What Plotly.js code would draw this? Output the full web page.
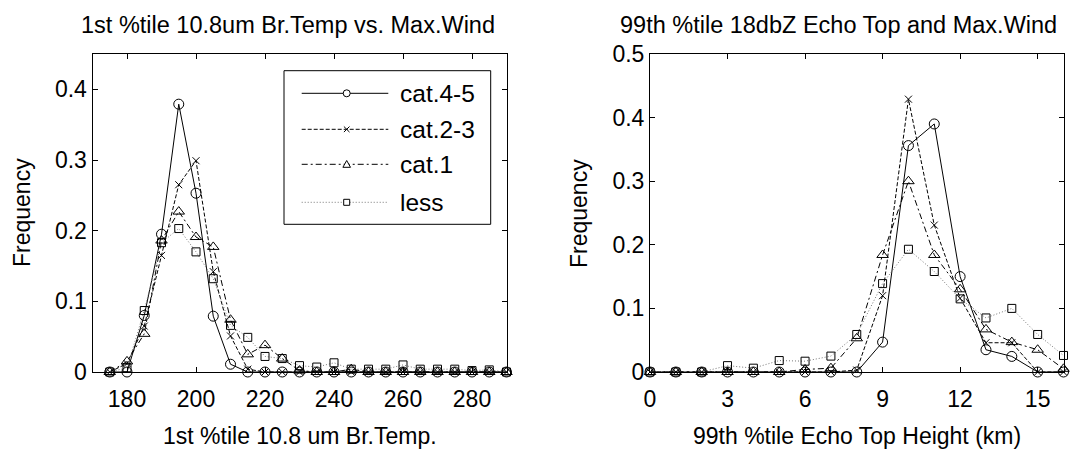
<!DOCTYPE html>
<html><head><meta charset="utf-8">
<script src="https://cdn.plot.ly/plotly-3.0.1.min.js"></script>
<style>html,body{margin:0;padding:0;background:#fff}#chart{width:1090px;height:450px}</style>
</head><body><div id="chart"></div>
<script>
// ---- data ----
const seriesNames = ['cat.4-5', 'cat.2-3', 'cat.1', 'less'];

const tempBins = [175,180,185,190,195,200,205,210,215,220,225,230,235,240,245,250,255,260,265,270,275,280,285,290];
const cat45Temp = [0,0,0.080,0.195,0.379,0.253,0.079,0.011,0,0,0,0,0,0,0,0,0,0,0,0,0,0,0,0];
const cat23Temp = [0,0.012,0.065,0.165,0.265,0.299,0.142,0.051,0.004,0,0,0,0,0,0,0,0,0,0,0,0,0,0,0];
const cat1Temp  = [0,0.015,0.054,0.186,0.227,0.191,0.177,0.074,0.025,0.038,0.019,0.002,0,0,0.004,0,0,0,0,0,0,0,0,0];
const lessTemp  = [0,0.006,0.087,0.183,0.203,0.170,0.132,0.066,0.049,0.022,0.019,0.009,0.007,0.013,0.004,0.004,0.004,0.010,0.004,0.004,0.004,0.002,0.003,0];

const heightBins = [0,1,2,3,4,5,6,7,8,9,10,11,12,13,14,15,16];
const cat45Height = [0,0,0,0,0,0,0,0,0,0.047,0.356,0.390,0.150,0.035,0.0245,0,0];
const cat23Height = [0,0,0,0,0,0,0,0,0.003,0.120,0.429,0.231,0.116,0.046,0.046,0,0];
const cat1Height  = [0,0,0,0,0,0,0.004,0.006,0.053,0.184,0.300,0.184,0.130,0.067,0.047,0.035,0.005];
const lessHeight  = [0,0,0,0.010,0.006,0.018,0.017,0.025,0.059,0.139,0.193,0.158,0.115,0.085,0.100,0.059,0.026];

const tempTicks = [180,200,220,240,260,280];
const heightTicks = [0,3,6,9,12,15];
const freqTicksLeft = [0,0.1,0.2,0.3,0.4];
const freqTicksRight = [0,0.1,0.2,0.3,0.4,0.5];

// ---- styles ----
const FONT = 'Liberation Sans, Arial, Helvetica, sans-serif';
const FS = 23;
const styles = [
  {dash:'solid', color:'#000', symbol:'circle-open', size:10},
  {dash:'4px,2px', color:'#000', symbol:'x-thin-open', size:7},
  {dash:'6px,3px,2px,3px', color:'#000', symbol:'triangle-up-open', size:10},
  {dash:'1px,2px', color:'#777', symbol:'square-open', size:8}
];

function mk(x, y, i, xa, ya) {
  const s = styles[i];
  return {
    x: x, y: y, xaxis: xa, yaxis: ya, type: 'scatter', mode: 'lines+markers',
    name: seriesNames[i], showlegend: false, cliponaxis: false,
    line: {color: s.color, width: 1, dash: s.dash},
    marker: {symbol: s.symbol, size: s.size, color: '#000', line: {color: '#000', width: 1}}
  };
}

const tempSeries = [cat45Temp, cat23Temp, cat1Temp, lessTemp];
const heightSeries = [cat45Height, cat23Height, cat1Height, lessHeight];
const traces = [];
tempSeries.forEach((v, i) => traces.push(mk(tempBins, v, i, 'x', 'y')));
heightSeries.forEach((v, i) => traces.push(mk(heightBins, v, i, 'x2', 'y2')));

const W = 1090, TOP = 54, BOT = 372, PH = BOT - TOP;
const px = v => v / W;
const py = v => (BOT - v) / PH;

function axisBase() {
  return {
    showgrid: false, zeroline: false, showline: true, linecolor: '#000', linewidth: 1,
    mirror: 'ticks', ticks: 'inside', ticklen: 5, tickwidth: 1, tickcolor: '#000',
    tickfont: {family: FONT, size: FS, color: '#000'}, fixedrange: true
  };
}

const layout = {
  width: 1090, height: 450,
  margin: {l: 0, r: 0, t: TOP, b: 450 - BOT, pad: 0},
  paper_bgcolor: '#fff', plot_bgcolor: '#fff',
  showlegend: false,
  xaxis: Object.assign(axisBase(), {domain: [px(92.5), px(506.5)], range: [170, 290], tickvals: tempTicks, ticklabelstandoff: 6, anchor: 'y'}),
  yaxis: Object.assign(axisBase(), {domain: [0, 1], range: [0, 0.45], tickvals: freqTicksLeft, ticklabelstandoff: 0, anchor: 'x'}),
  xaxis2: Object.assign(axisBase(), {domain: [px(650), px(1063.5)], range: [0, 16], tickvals: heightTicks, ticklabelstandoff: 6, anchor: 'y2'}),
  yaxis2: Object.assign(axisBase(), {domain: [0, 1], range: [0, 0.5], tickvals: freqTicksRight, ticklabelstandoff: 0, anchor: 'x2'}),
  annotations: [],
  shapes: []
};

function txt(text, x, y, opts) {
  layout.annotations.push(Object.assign({
    text: text, xref: 'paper', yref: 'paper', x: px(x), y: py(y),
    xanchor: 'center', yanchor: 'middle', showarrow: false,
    font: {family: FONT, size: FS, color: '#000'}
  }, opts || {}));
}
txt('1st %tile 10.8um Br.Temp vs. Max.Wind', 288, 25, {font: {family: FONT, size: 23.5, color: '#000'}});
txt('99th %tile 18dbZ Echo Top and Max.Wind', 838, 25, {font: {family: FONT, size: 23.5, color: '#000'}});
txt('1st %tile 10.8 um Br.Temp.', 300, 436);
txt('99th %tile Echo Top Height (km)', 857, 436);
txt('Frequency', 22, 213, {textangle: -90});
txt('Frequency', 579, 213, {textangle: -90});

// ---- legend (drawn as layout decoration) ----
const legBox = {x0: 284, x1: 490.7, y0: 70.7, y1: 224.3};
layout.shapes.push({type: 'rect', xref: 'paper', yref: 'paper',
  x0: px(legBox.x0), x1: px(legBox.x1), y0: py(legBox.y1), y1: py(legBox.y0),
  line: {color: '#000', width: 1}, fillcolor: '#fff', layer: 'above'});
const rowsY = [93.3, 129.3, 164.3, 202.3];
const lx0 = 301.7, lx1 = 388.3, mx = 346.7, tx = 398.3;
rowsY.forEach((yy, i) => {
  const s = styles[i];
  layout.shapes.push({type: 'line', xref: 'paper', yref: 'paper', x0: px(lx0), x1: px(lx1), y0: py(yy), y1: py(yy),
    line: {color: s.color, width: 1, dash: s.dash}, layer: 'above'});
  const base = {xref: 'paper', yref: 'paper', xsizemode: 'pixel', ysizemode: 'pixel', xanchor: px(mx), yanchor: py(yy), layer: 'above', line: {color: '#000', width: 1}};
  if (i === 0) layout.shapes.push(Object.assign({type: 'circle', x0: -3.5, x1: 3.5, y0: -3.5, y1: 3.5, fillcolor: '#fff'}, base));
  if (i === 1) layout.shapes.push(Object.assign({type: 'path', path: 'M-2.8,-2.8L2.8,2.8M-2.8,2.8L2.8,-2.8'}, base));
  if (i === 2) layout.shapes.push(Object.assign({type: 'path', path: 'M-3.8,-3L3.8,-3L0,3.8Z', fillcolor: '#fff'}, base));
  if (i === 3) layout.shapes.push(Object.assign({type: 'rect', x0: -3, x1: 3, y0: -3, y1: 3, fillcolor: '#fff'}, base));
  txt(seriesNames[i], tx, yy, {xanchor: 'left', font: {family: FONT, size: 24.5, color: '#000'}});
});

Plotly.newPlot('chart', traces, layout, {staticPlot: true, displayModeBar: false});
</script></body></html>
